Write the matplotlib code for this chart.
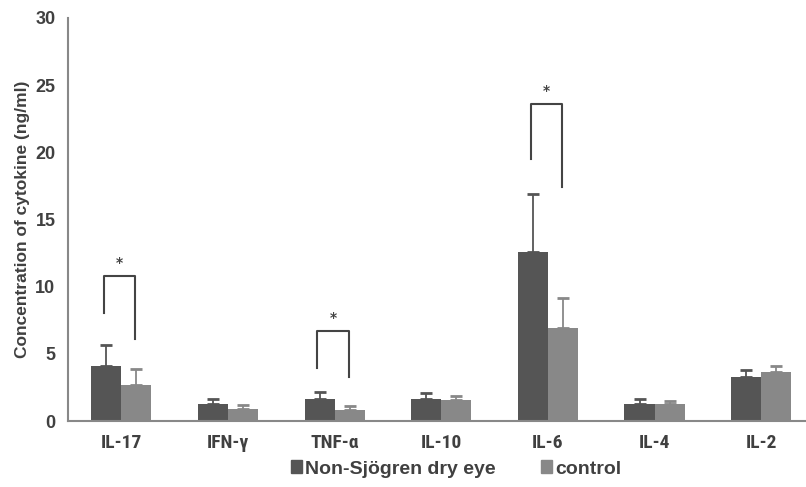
import matplotlib
matplotlib.use("Agg")
import matplotlib.pyplot as plt
from matplotlib.patches import Patch
import numpy as np

categories = ["IL-17", "IFN-\u03b3", "TNF-\u03b1", "IL-10", "IL-6", "IL-4", "IL-2"]
dry_eye = [4.1, 1.24, 1.64, 1.64, 12.6, 1.24, 3.25]
dry_eye_err = [1.58, 0.40, 0.52, 0.42, 4.28, 0.37, 0.52]
control = [2.65, 0.92, 0.82, 1.54, 6.95, 1.24, 3.67]
control_err = [1.22, 0.29, 0.32, 0.30, 2.19, 0.27, 0.43]
# significance brackets: (category index, top, left leg bottom, right leg bottom)
sig_idx = [0, 2, 4]
sig_top = [10.8, 6.72, 23.6]
sig_left = [8.07, 3.97, 19.5]
sig_right = [6.08, 3.3, 17.45]

NARROW = ["Roboto Condensed", "PT Sans Narrow", "Liberation Sans", "DejaVu Sans"]
SANS = ["Liberation Sans", "DejaVu Sans"]

fig = plt.figure(figsize=(8.06, 4.87), dpi=100)
ax = fig.add_axes([68/806, 66/487, 1 - 68/806, (421-18)/487])

x = np.arange(len(categories))
w = 0.282
dark = "#555555"
light = "#888888"
ax.bar(x - w/2, dry_eye, w, color=dark, zorder=2)
ax.bar(x + w/2, control, w, color=light, zorder=2)
ax.errorbar(x - w/2, dry_eye, yerr=[np.zeros(len(x)), dry_eye_err], fmt="none",
            ecolor=dark, elinewidth=1.3, capsize=4, capthick=2, zorder=3)
ax.errorbar(x + w/2, control, yerr=[np.zeros(len(x)), control_err], fmt="none",
            ecolor=light, elinewidth=1.3, capsize=4, capthick=2, zorder=3)

for i, t, l, r in zip(sig_idx, sig_top, sig_left, sig_right):
    xl = i - w/2 - 0.02
    xr = i + w/2 - 0.01
    ax.plot([xl, xl, xr, xr], [l, t, t, r], color="#444444", lw=1.5)
    ax.text((xl + xr)/2, t + 0.45, "*", ha="center", va="bottom",
            fontsize=10, fontweight="bold", color="#444444")

ax.set_xlim(-0.5, 6.42)
ax.set_ylim(0, 30)
ax.set_yticks([0, 5, 10, 15, 20, 25, 30])
for s in ["top", "right"]:
    ax.spines[s].set_visible(False)
for s in ["left", "bottom"]:
    ax.spines[s].set_color("#888888")
    ax.spines[s].set_linewidth(1.5)
ax.tick_params(axis="both", length=0, colors="#404040")
ax.tick_params(axis="y", pad=9)
ax.tick_params(axis="x", pad=9)
ax.set_xticks(x)
ax.set_xticklabels(categories, fontsize=14, fontweight="bold",
                   family=NARROW, color="#404040")
for lab in ax.get_yticklabels():
    lab.set_fontsize(13)
    lab.set_fontweight("bold")
    lab.set_family(SANS)
    lab.set_color("#404040")
ax.set_ylabel("Concentration of cytokine (ng/ml)", fontsize=12.5, fontweight="bold",
              family=SANS, color="#404040", labelpad=4)

handles = [Patch(color=dark, label="Non-Sj\u00f6gren dry eye"),
           Patch(color=light, label="control")]
fig.legend(handles=handles, loc="center", bbox_to_anchor=(456/806, 1 - 469/487), ncol=2,
           frameon=False, handlelength=0.6, handleheight=0.6, handletextpad=0.15,
           columnspacing=2.3,
           prop={"family": SANS, "weight": "bold", "size": 14},
           labelcolor="#404040")

fig.savefig("out.png", dpi=100)
